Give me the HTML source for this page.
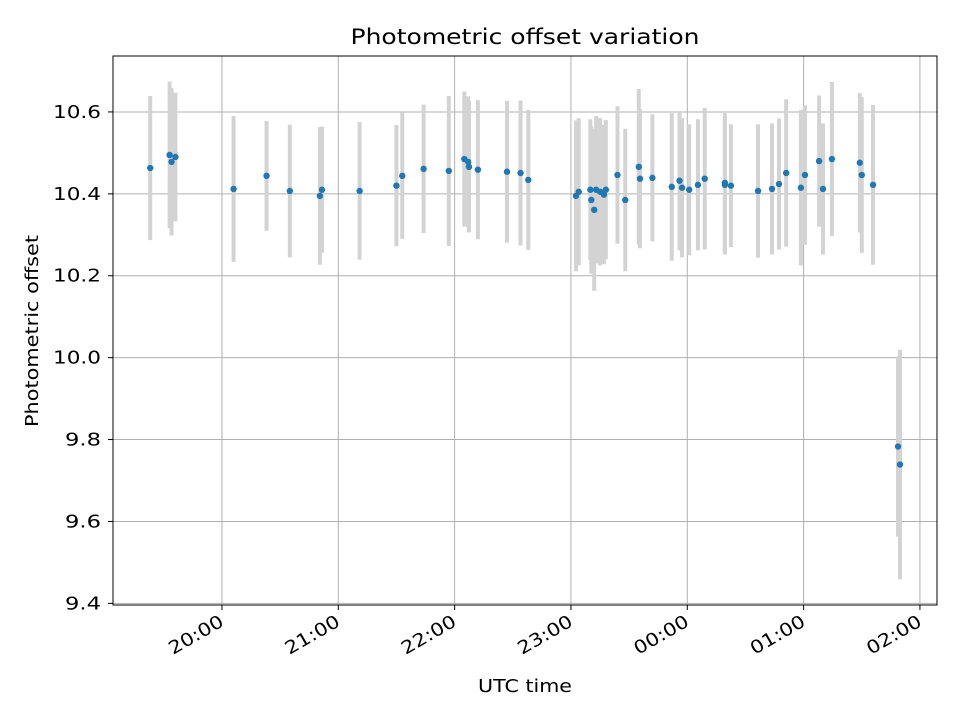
<!DOCTYPE html>
<html><head><meta charset="utf-8"><style>
body{margin:0;background:#fff;}
svg{display:block;font-family:"DejaVu Sans","Liberation Sans",sans-serif;}
</style></head><body>
<svg id="chart" width="960" height="720" viewBox="0 0 960 720" xmlns="http://www.w3.org/2000/svg">
<rect width="960" height="720" fill="#fff"/>
<g id="grid"></g><g id="bars"></g><g id="pts"></g><g id="axes"></g>
<text x="525" y="44" font-size="21" text-anchor="middle" textLength="349" lengthAdjust="spacingAndGlyphs">Photometric offset variation</text>
<text x="525" y="692" font-size="18" text-anchor="middle" textLength="94" lengthAdjust="spacingAndGlyphs">UTC time</text>
<text transform="translate(38,331) rotate(-90)" font-size="18" text-anchor="middle" textLength="192" lengthAdjust="spacingAndGlyphs">Photometric offset</text>
</svg>
<script>
// minutes past 19:00
const times=[23,33,34,36,66,83,95,110.5,111.6,131,150,153,164,177,185,187.4,187,192,207,214,218,242.6,244,250,250.5,252,253,255,257,258,264,268,275,275.6,282,292,296,297.3,301,305.5,309,319.4,319.4,322.5,336.5,343.7,347.3,351,358.6,360.7,368,370,374.6,389,390,395.8,408.7,409.7];
const values=[10.463,10.495,10.478,10.490,10.412,10.444,10.407,10.395,10.410,10.407,10.420,10.444,10.461,10.456,10.485,10.466,10.478,10.459,10.454,10.451,10.434,10.395,10.405,10.410,10.385,10.361,10.410,10.405,10.398,10.410,10.446,10.385,10.466,10.437,10.439,10.417,10.432,10.415,10.410,10.422,10.437,10.427,10.422,10.420,10.407,10.412,10.424,10.451,10.415,10.446,10.480,10.412,10.485,10.476,10.446,10.422,9.783,9.739];
const errors=[0.176,0.179,0.18,0.157,0.178,0.134,0.162,0.168,0.154,0.168,0.148,0.154,0.157,0.183,0.165,0.16,0.16,0.17,0.173,0.177,0.171,0.184,0.18,0.172,0.18,0.198,0.18,0.18,0.17,0.17,0.168,0.174,0.19,0.17,0.155,0.18,0.17,0.17,0.16,0.16,0.173,0.17,0.17,0.15,0.163,0.16,0.16,0.18,0.19,0.17,0.16,0.16,0.188,0.17,0.19,0.195,0.22,0.28];
const xTicks=[60,120,180,240,300,360,420];
const xTickLabels=["20:00","21:00","22:00","23:00","00:00","01:00","02:00"];
const yTicks=[9.4,9.6,9.8,10.0,10.2,10.4,10.6];
const yTickLabels=["9.4","9.6","9.8","10.0","10.2","10.4","10.6"];
const L=113,R=937,T=56,B=605,X0=3.8,X1=428.8,Y0=9.396,Y1=10.7366;
const sx=v=>L+(v-X0)/(X1-X0)*(R-L), sy=v=>B-(v-Y0)/(Y1-Y0)*(B-T);
const NS="http://www.w3.org/2000/svg";
function mk(p,t,a){const e=document.createElementNS(NS,t);for(const k in a)e.setAttribute(k,a[k]);document.getElementById(p).appendChild(e);return e;}
xTicks.forEach((t,i)=>{const x=sx(t);
 const g=mk('grid','line',{x1:x,x2:x,y1:T,y2:B,stroke:'#b0b0b0','stroke-width':1});
 
 const tk=mk('axes','line',{x1:x,x2:x,y1:B,y2:B+5,stroke:'#000'});
 
 const ax=x+3, ay=B+20;
 const tx=mk('axes','text',{x:ax,y:ay,'font-size':18,'text-anchor':'end',textLength:60,lengthAdjust:'spacingAndGlyphs',transform:`rotate(-30 ${ax} ${ay})`});
 tx.textContent=xTickLabels[i];});
yTicks.forEach((t,i)=>{const y=sy(t);
 const g=mk('grid','line',{x1:L,x2:R,y1:y,y2:y,stroke:'#b0b0b0','stroke-width':1});
 
 const tk=mk('axes','line',{x1:L-5,x2:L,y1:y,y2:y,stroke:'#000'});
 
 const tx=mk('axes','text',{x:L-12,y:y+6,'font-size':18,'text-anchor':'end',textLength:yTickLabels[i].length>3?48:36,lengthAdjust:'spacingAndGlyphs'});
 tx.textContent=yTickLabels[i];});
times.forEach((t,i)=>{const x=sx(t);
 const b=mk('bars','line',{x1:x,x2:x,y1:sy(values[i]+errors[i]),y2:sy(values[i]-errors[i]),stroke:'#d3d3d3','stroke-width':4});
 
 const c=mk('pts','circle',{cx:x,cy:sy(values[i]),r:3.2,fill:'#1f77b4'});
 });
const f=mk('axes','rect',{x:L,y:T,width:R-L,height:B-T,fill:'none',stroke:'#000','stroke-width':1});

</script>
</body></html>
